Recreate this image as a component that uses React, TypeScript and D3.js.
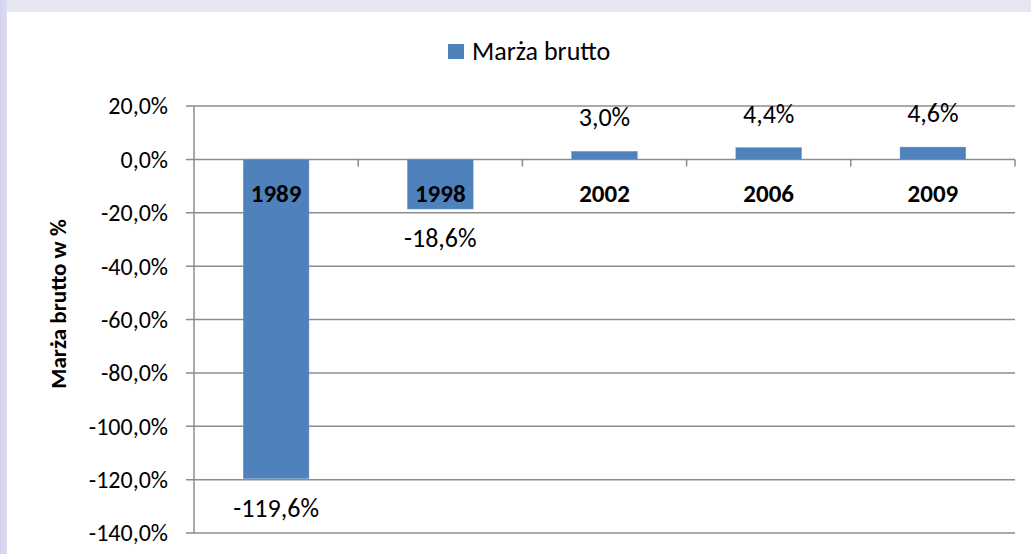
import React from "react";
import * as d3 from "d3";

const categories = ["1989", "1998", "2002", "2006", "2009"];
const values = [-119.6, -18.6, 3.0, 4.4, 4.6];
const yTicks = [20, 0, -20, -40, -60, -80, -100, -120, -140];
const seriesName = "Marża brutto";
const yTitle = "Marża brutto w %";

const W = 1031, H = 554;
const left = 194, right = 1015, top = 106, bottom = 533;

const fmt = (v: number) => v.toFixed(1).replace(".", ",") + "%";

export default function App() {
  const x = d3.scaleBand().domain(categories).range([left, right]).paddingInner(0.6).paddingOuter(0.3);
  const xc = d3.scaleBand().domain(categories).range([left, right]);
  const y = d3.scaleLinear().domain([-140, 20]).range([bottom, top]);
  const font = "Carlito, Lato, 'Open Sans', 'Liberation Sans', sans-serif";
  const y0 = y(0);
  return (
    <svg width={W} height={H} style={{ position: "absolute", left: 0, top: 0, display: "block" }}>
      <defs>
        <linearGradient id="lg" x1="0" x2="1" y1="0" y2="0">
          <stop offset="0" stopColor="#D3D3EE" />
          <stop offset="1" stopColor="#DCDCF0" />
        </linearGradient>
      </defs>
      <rect x={0} y={0} width={W} height={H} fill="#E7E7F1" />
      <rect x={0} y={0} width={7} height={H} fill="url(#lg)" />
      <rect x={7} y={12} width={W - 7} height={H - 12} fill="#FFFFFF" />
      {yTicks.map((t) => (
        <g key={t}>
          <line x1={left - 8} x2={right} y1={y(t)} y2={y(t)} stroke="#8C8C8C" strokeWidth={1.5} />
          <text x={168} y={y(t)} dy="0.35em" textAnchor="end" fontFamily={font} fontSize={24} fill="#000">{fmt(t)}</text>
        </g>
      ))}
      <line x1={left} x2={left} y1={top} y2={bottom} stroke="#8C8C8C" strokeWidth={1.5} />
      {categories.map((c) => (
        <line key={"t" + c} x1={(xc(c) as number) + xc.bandwidth()} x2={(xc(c) as number) + xc.bandwidth()} y1={y0} y2={y0 + 7} stroke="#8C8C8C" strokeWidth={1.5} />
      ))}
      {categories.map((c, i) => {
        const v = values[i];
        const bx = x(c) as number;
        return (
          <rect key={"b" + c} x={bx} width={x.bandwidth()} y={Math.min(y(v), y0)} height={Math.abs(y(v) - y0)} fill="#4F81BD" stroke="#6F97C8" strokeWidth={0.5} />
        );
      })}
      {categories.map((c, i) => {
        const v = values[i];
        const cx = (x(c) as number) + x.bandwidth() / 2;
        return (
          <g key={"l" + c}>
            <text x={cx} y={v < 0 ? y(v) + 38 : y(v) - 25} textAnchor="middle" fontFamily={font} fontSize={26} fill="#000">{fmt(v)}</text>
            <text x={cx} y={y0 + 43} textAnchor="middle" fontFamily={font} fontSize={25} fontWeight="bold" fill="#000">{c}</text>
          </g>
        );
      })}
      <rect x={448} y={44} width={16} height={15} fill="#4F81BD" />
      <text x={472} y={60} fontFamily={font} fontSize={26} fill="#000">{seriesName}</text>
      <text transform={`translate(66,304) rotate(-90)`} textAnchor="middle" fontFamily={font} fontSize={23} fontWeight="bold" fill="#000">{yTitle}</text>
    </svg>
  );
}
